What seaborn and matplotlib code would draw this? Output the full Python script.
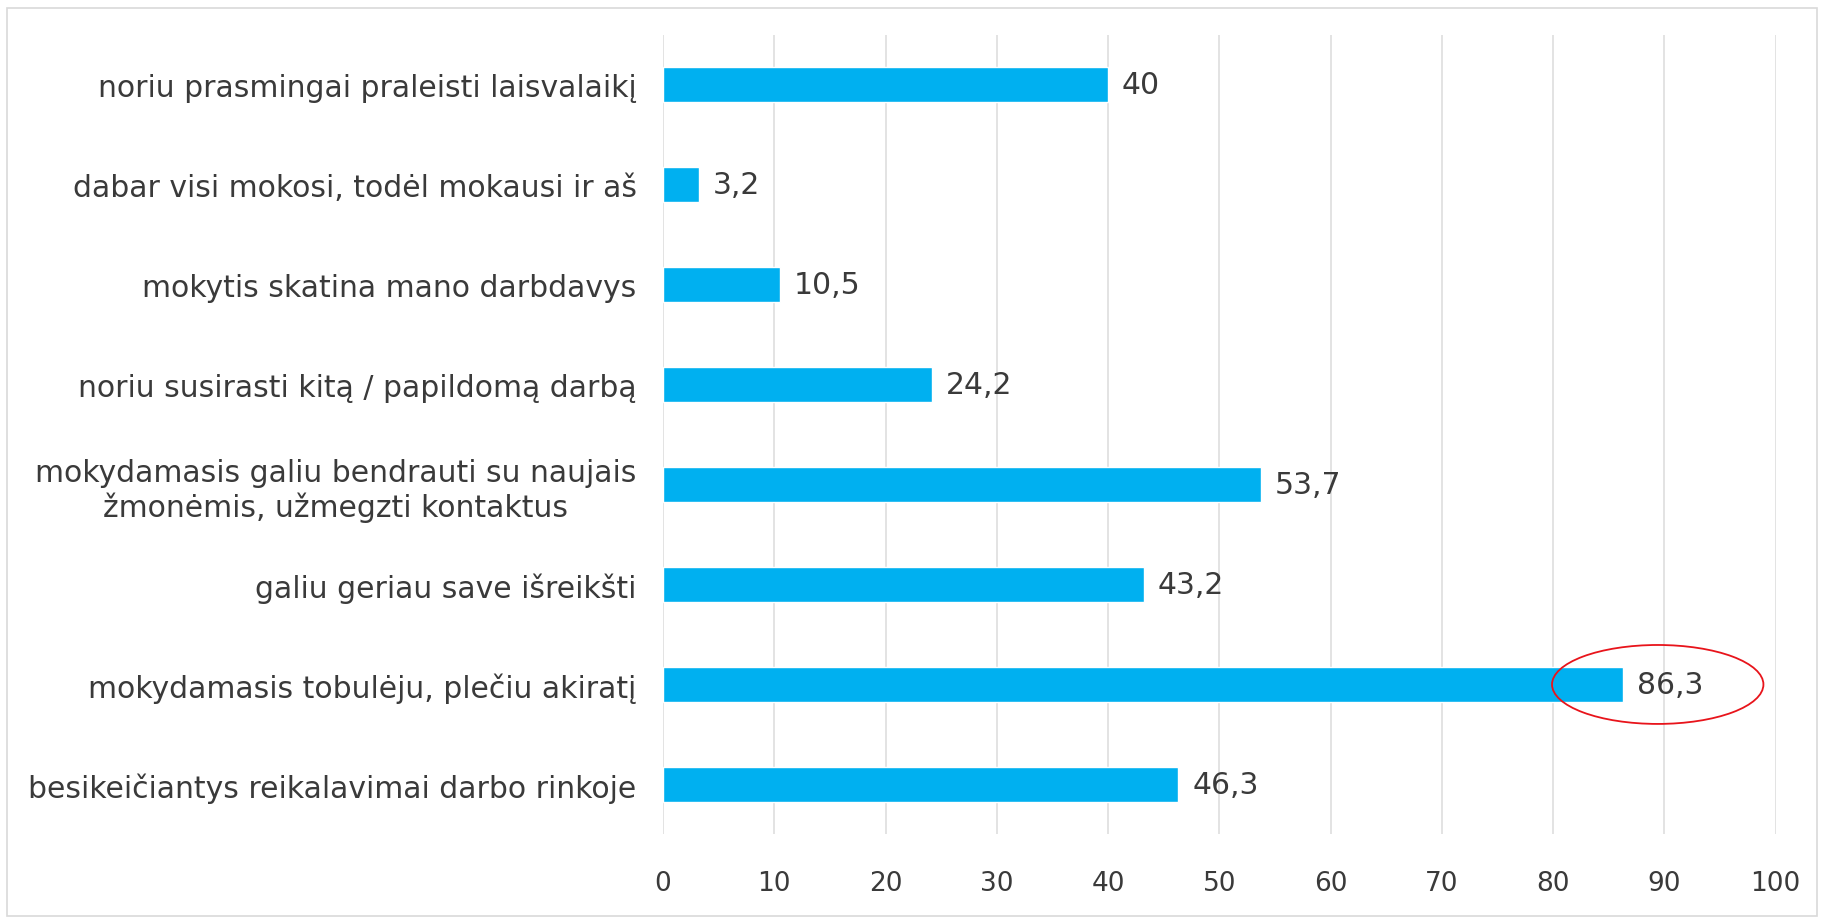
import numpy as np
import pandas as pd
import matplotlib
matplotlib.use("Agg")
import matplotlib.pyplot as plt
import seaborn as sns
from matplotlib.patches import Ellipse, Rectangle

# data
reasons = [
    'noriu prasmingai praleisti laisvalaikį',
    'dabar visi mokosi, todėl mokausi ir aš',
    'mokytis skatina mano darbdavys',
    'noriu susirasti kitą / papildomą darbą',
    'mokydamasis galiu bendrauti su naujais\nžmonėmis, užmegzti kontaktus',
    'galiu geriau save išreikšti',
    'mokydamasis tobulėju, plečiu akiratį',
    'besikeičiantys reikalavimai darbo rinkoje',
]
percent = [40, 3.2, 10.5, 24.2, 53.7, 43.2, 86.3, 46.3]
xticks = [0, 10, 20, 30, 40, 50, 60, 70, 80, 90, 100]

df = pd.DataFrame({'reason': reasons, 'percent': percent})

sns.set_style('white')
plt.rcParams['font.family'] = ['DejaVu Sans']
text_col = '#3a3a3a'

fig = plt.figure(figsize=(18.24, 9.2), dpi=100)
ax = fig.add_axes([0.3635, 0.092, 0.61, 0.869])

sns.barplot(data=df, x='percent', y='reason', orient='h', color='#00B0F0',
            width=0.35, saturation=1, ax=ax)

labels = [f"{v:g}".replace('.', ',') for v in percent]
ax.bar_label(ax.containers[0], labels=labels, padding=10, fontsize=21.5, color=text_col)

ax.set_xlim(0, 100)
ax.set_xticks(xticks)
ax.set_xticklabels([str(t) for t in xticks])
ax.set_xlabel('')
ax.set_ylabel('')
ax.grid(axis='x', color='#DEDEDE', linewidth=1.2)
ax.set_axisbelow(True)
for s in ax.spines.values():
    s.set_visible(False)
ax.tick_params(axis='x', length=0, pad=26, labelsize=19, labelcolor=text_col)
ax.tick_params(axis='y', length=0, pad=19, labelsize=21.5, labelcolor=text_col)
for lab in ax.get_yticklabels():
    lab.set_multialignment('center')

# red highlight ellipse around the top value
ell = Ellipse((89.4, 6), width=19.0, height=0.79, fill=False, edgecolor='#E8141B',
              linewidth=1.3, clip_on=False, zorder=5)
ax.add_patch(ell)

# light frame round the whole chart
fig.patches.append(Rectangle((0.004, 0.003), 0.992, 0.987, transform=fig.transFigure,
                             fill=False, edgecolor='#D9D9D9', linewidth=1.2))

fig.savefig('out.png', dpi=100)
